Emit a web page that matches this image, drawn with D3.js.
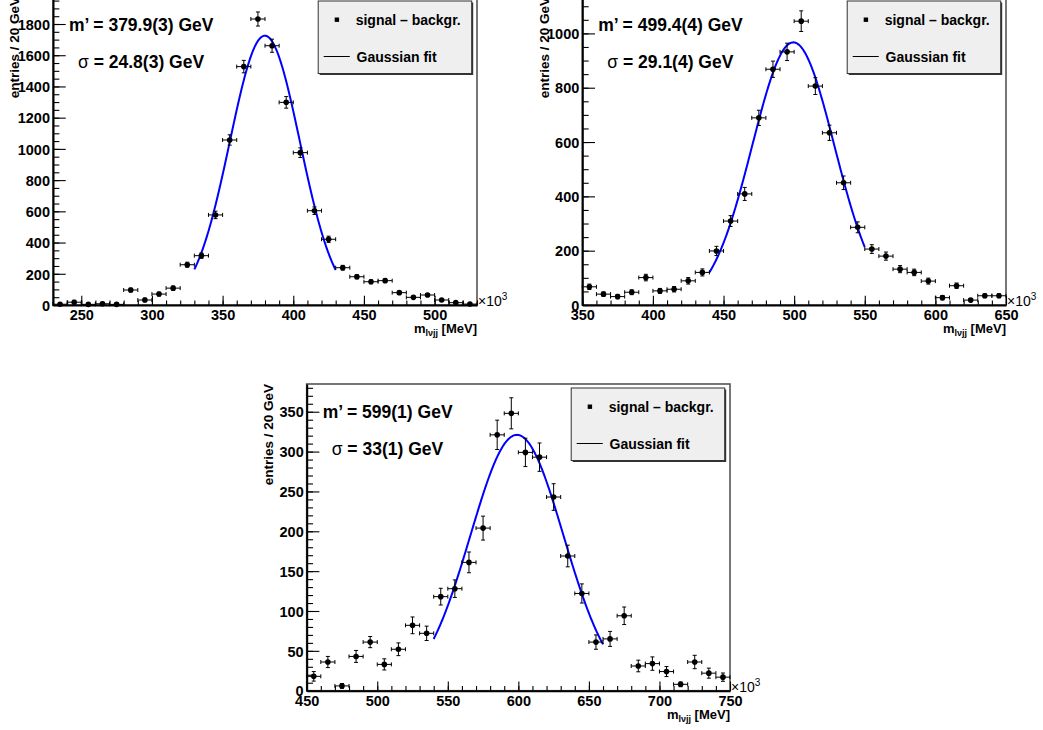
<!DOCTYPE html>
<html><head><meta charset="utf-8">
<script src="https://cdn.jsdelivr.net/npm/d3@7"></script>
<style>
body{margin:0;background:#fff}
svg{display:block}
text{font-family:"Liberation Sans",Arial,Helvetica,sans-serif;font-weight:bold;fill:#000}
</style>
</head><body>
<svg id="chart" width="1043" height="730"></svg>
<script>
// ---------- DATA ----------
// Panel A (m' ~ 380 GeV)
const binsA   = [235,245,255,265,275,285,295,305,315,325,335,345,355,365,375,385,395,405,415,425,435,445,455,465,475,485,495,505,515,525];
const countsA = [5,18,4,8,4,96,32,70,108,258,316,577,1057,1527,1832,1661,1298,976,604,421,239,181,149,156,79,49,64,32,15,6];
const errorsA = [8,12,8,10,9,12,12,12,13,16,17,24,33,40,45,42,37,31,24,20,15,13,12,12,9,7,8,6,5,4];
const xTicksA = [250,300,350,400,450,500];
const yTicksA = [0,200,400,600,800,1000,1200,1400,1600,1800];
const xDomainA = [230,530];
const yDomainA = [0,1973];
const fitA = {mean:379.9, sigma:24.8, amp:1725, from:330, to:430, label1:"m’ = 379.9(3) GeV", label2:" = 24.8(3) GeV"};

// Panel B (m' ~ 500 GeV)
const binsB   = [355,365,375,385,395,405,415,425,435,445,455,465,475,485,495,505,515,525,535,545,555,565,575,585,595,605,615,625,635,645];
const countsB = [67,40,31,47,101,52,58,89,120,199,309,409,689,868,932,1045,806,634,450,286,206,180,132,120,88,27,71,18,34,34];
const errorsB = [10,8,8,9,12,9,10,12,13,17,20,24,28,30,32,38,31,28,25,20,16,15,13,12,11,8,10,6,7,7];
const xTicksB = [350,400,450,500,550,600,650];
const yTicksB = [0,200,400,600,800,1000];
const xDomainB = [350,650];
const yDomainB = [0,1134];
const fitB = {mean:499.4, sigma:29.1, amp:967, from:440, to:550, label1:"m’ = 499.4(4) GeV", label2:" = 29.1(4) GeV"};

// Panel C (m' ~ 600 GeV)
const binsC   = [455,465,475,485,495,505,515,525,535,545,555,565,575,585,595,605,615,625,635,645,655,665,675,685,695,705,715,725,735,745];
const countsC = [18,36,6,43,61,33,52,82,72,118,128,161,204,321,348,299,293,243,169,122,61,65,94,31,34,24,8,36,22,17];
const errorsC = [6,7,3,7.5,7,7,8,10.5,9,10.5,11,13,15,18.4,19.5,17.8,17.8,16.7,13.6,12,9,9.4,11,7.3,8.4,6.3,3,8.4,6.3,5.2];
const xTicksC = [450,500,550,600,650,700,750];
const yTicksC = [0,50,100,150,200,250,300,350];
const xDomainC = [450,750];
const yDomainC = [0,384.8];
const fitC = {mean:599, sigma:33, amp:321, from:540, to:660, label1:"m’ = 599(1) GeV", label2:" = 33(1) GeV"};

const binHalfWidth = 5;
const legendLabels = ["signal – backgr.", "Gaussian fit"];

// ---------- LAYOUT ----------
const layout = [
  {x0:53,    y0:-3,  x1:477, y1:305,   yMinor:50},
  {x0:582.3, y0:-3,  x1:1006, y1:305,  yMinor:50},
  {x0:306.7, y0:384, x1:730, y1:690.7, yMinor:10}
];
const panels = [
  {bins:binsA, counts:countsA, errs:errorsA, xTicks:xTicksA, yTicks:yTicksA, xDomain:xDomainA, yDomain:yDomainA, fit:fitA},
  {bins:binsB, counts:countsB, errs:errorsB, xTicks:xTicksB, yTicks:yTicksB, xDomain:xDomainB, yDomain:yDomainB, fit:fitB},
  {bins:binsC, counts:countsC, errs:errorsC, xTicks:xTicksC, yTicks:yTicksC, xDomain:xDomainC, yDomain:yDomainC, fit:fitC}
];

const svg = d3.select("#chart");

panels.forEach((p, i) => {
  const L = layout[i];
  const W = L.x1 - L.x0, H = L.y1 - L.y0;
  const x = d3.scaleLinear().domain(p.xDomain).range([L.x0, L.x1]);
  const y = d3.scaleLinear().domain(p.yDomain).range([L.y1, L.y0]);
  const g = svg.append("g");

  // frame
  g.append("rect").attr("x", L.x0).attr("y", L.y0).attr("width", W).attr("height", H)
    .attr("fill", "none").attr("stroke", "#555").attr("stroke-width", 1.6);

  const majX = 0.03 * H, majY = 0.03 * W;

  // minor ticks
  const xMinor = d3.range(p.xDomain[0], p.xDomain[1] + 0.01, 10);
  const yMinor = d3.range(0, p.yDomain[1], L.yMinor);
  g.append("g").attr("transform", `translate(0,${L.y1})`)
    .call(d3.axisBottom(x).tickValues(xMinor).tickFormat("").tickSizeInner(-majX / 2).tickSizeOuter(0))
    .call(s => s.select(".domain").remove());
  g.append("g").attr("transform", `translate(${L.x0},0)`)
    .call(d3.axisLeft(y).tickValues(yMinor).tickFormat("").tickSizeInner(-majY / 2).tickSizeOuter(0))
    .call(s => s.select(".domain").remove());

  // major axes
  const xa = g.append("g").attr("transform", `translate(0,${L.y1})`)
    .call(d3.axisBottom(x).tickValues(p.xTicks).tickFormat(d3.format("d")).tickSizeInner(-majX).tickSizeOuter(0).tickPadding(5));
  const ya = g.append("g").attr("transform", `translate(${L.x0},0)`)
    .call(d3.axisLeft(y).tickValues(p.yTicks).tickFormat(d3.format("d")).tickSizeInner(-majY).tickSizeOuter(0).tickPadding(3));
  [xa, ya].forEach(a => {
    a.attr("font-family", null).attr("font-size", null);
    a.selectAll("text").style("font-size", "14.5px");
    a.select(".domain").attr("stroke", "#000").attr("stroke-width", 2);
  });
  g.selectAll(".tick line").attr("stroke", "#000").attr("stroke-width", 1.1);
  ya.selectAll("text").attr("dy", "0.36em");

  // x10^3
  const e = g.append("text").attr("x", L.x1 + 1).attr("y", L.y1 + 1).style("font-size", "14px").style("font-weight", "normal");
  e.append("tspan").text("×10");
  e.append("tspan").attr("dy", -6).style("font-size", "10px").text("3");

  // axis titles
  const xt = g.append("text").attr("x", L.x1).attr("y", L.y1 + 28).attr("text-anchor", "end").style("font-size", "13px");
  xt.append("tspan").text("m");
  xt.append("tspan").attr("dy", 3).style("font-size", "9px").text("lνjj");
  xt.append("tspan").attr("dy", -3).text(" [MeV]");
  g.append("text").attr("transform", `translate(${L.x0 - 33.7},${L.y0}) rotate(-90)`)
    .attr("text-anchor", "end").style("font-size", "13.5px").text("entries / 20 GeV");

  // fit curve
  const f = p.fit;
  const fx = d3.range(f.from, f.to + 0.001, 0.5);
  const line = d3.line().x(d => x(d)).y(d => y(f.amp * Math.exp(-0.5 * Math.pow((d - f.mean) / f.sigma, 2))));
  g.append("path").datum(fx).attr("d", line).attr("fill", "none").attr("stroke", "#0000ff").attr("stroke-width", 2);

  // data points with error bars
  const pts = p.bins.map((b, k) => ({b, c:p.counts[k], e:p.errs[k]}));
  const pg = g.append("g").attr("stroke", "#000").attr("stroke-width", 1);
  const cap = 2;
  pts.forEach(d => {
    const cx = x(d.b), cy = y(d.c);
    const xl = x(d.b - binHalfWidth), xr = x(d.b + binHalfWidth);
    const yt = y(d.c + d.e), yb = y(d.c - d.e);
    pg.append("line").attr("x1", xl).attr("x2", xr).attr("y1", cy).attr("y2", cy);
    pg.append("line").attr("x1", xl).attr("x2", xl).attr("y1", cy - cap).attr("y2", cy + cap);
    pg.append("line").attr("x1", xr).attr("x2", xr).attr("y1", cy - cap).attr("y2", cy + cap);
    pg.append("line").attr("x1", cx).attr("x2", cx).attr("y1", yt).attr("y2", Math.min(yb, L.y1));
    pg.append("line").attr("x1", cx - cap).attr("x2", cx + cap).attr("y1", yt).attr("y2", yt);
    if (yb < L.y1) pg.append("line").attr("x1", cx - cap).attr("x2", cx + cap).attr("y1", yb).attr("y2", yb);
  });
  g.append("g").selectAll("circle").data(pts).join("circle")
    .attr("cx", d => x(d.b)).attr("cy", d => y(d.c)).attr("r", 2.8).attr("fill", "#000");

  // annotations
  g.append("text").attr("x", L.x0 + 16).attr("y", L.y0 + 27.5).attr("dy", "0.36em")
    .style("font-size", "17.5px").text(f.label1);
  const s = g.append("text").attr("x", L.x0 + 25).attr("y", L.y0 + 65).attr("dy", "0.36em").style("font-size", "17.5px");
  s.append("tspan").style("font-weight", "normal").text("σ");
  s.append("tspan").text(f.label2);

  // legend
  const lw = 153.5, lh = 72.5;
  const lx = L.x1 - 5.3 - lw, ly = L.y0 + 4;
  const lg = g.append("g");
  lg.append("rect").attr("x", lx + 1.5).attr("y", ly + 1.5).attr("width", lw).attr("height", lh).attr("fill", "#333");
  lg.append("rect").attr("x", lx).attr("y", ly).attr("width", lw).attr("height", lh)
    .attr("fill", "#efefef").attr("stroke", "#333").attr("stroke-width", 1);
  lg.append("rect").attr("x", lx + 18.7 - 2.2).attr("y", ly + 18.7 - 2.2).attr("width", 4.4).attr("height", 4.4).attr("fill", "#000");
  lg.append("text").attr("x", lx + 37.5).attr("y", ly + 24).style("font-size", "14px").text(legendLabels[0]);
  lg.append("line").attr("x1", lx + 5.5).attr("x2", lx + 31.6).attr("y1", ly + 55.5).attr("y2", ly + 55.5)
    .attr("stroke", "#000").attr("stroke-width", 1);
  lg.append("text").attr("x", lx + 38.3).attr("y", ly + 61).style("font-size", "14px").text(legendLabels[1]);
});
</script>
</body></html>
